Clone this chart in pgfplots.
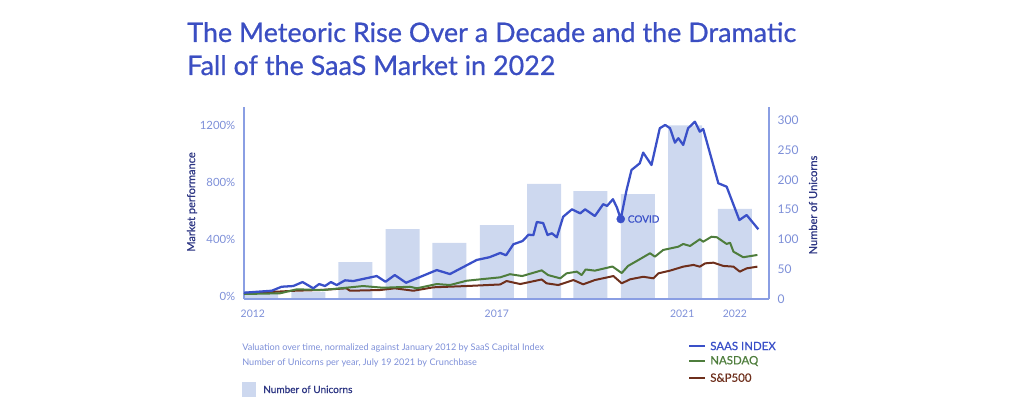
\documentclass[border=0pt]{standalone}
\usepackage{fontspec}
\setmainfont{Lato}
\newfontfamily\medfont{Lato}[FakeBold=0.7]
\usepackage{pgfplots}
\pgfplotsset{compat=1.18}
\definecolor{titleblue}{HTML}{3B4EC2}
\definecolor{saas}{HTML}{3A50C8}
\definecolor{ticklab}{HTML}{7D8FD8}
\definecolor{spine}{HTML}{8A9EE3}
\definecolor{barc}{HTML}{CDD8EF}
\definecolor{nasdaq}{HTML}{4E7D3C}
\definecolor{sp}{HTML}{6E2F1C}
\definecolor{navy}{HTML}{2E3784}
\begin{document}
\begin{tikzpicture}
\path[use as bounding box] (-183pt,-86.25pt) rectangle (585pt,224.25pt);
% ---- bars: number of unicorns (right axis)
\begin{axis}[
  scale only axis, width=393.75pt, height=144pt,
  xmin=2012, xmax=2022.758, ymin=0, ymax=322,
  axis y line*=right, axis x line=none,
  y axis line style={draw=spine, line width=1pt, -},
  ytick={0,50,100,150,200,250,300},
  major tick length=0pt,
  yticklabel style={font=\fontsize{9}{9}\selectfont, text=ticklab, /pgf/number format/assume math mode=true, xshift=3pt},
  ybar, bar width=25.5pt,
]
\addplot[fill=barc, draw=none] coordinates {
 (2012.35,13) (2013.32,12) (2014.28,62) (2015.25,117) (2016.21,94)
 (2017.18,124) (2018.15,193) (2019.10,181) (2020.07,176) (2021.04,291) (2022.06,151)};
\end{axis}
% ---- lines: market performance (left axis)
\begin{axis}[
  scale only axis, width=393.75pt, height=144pt,
  xmin=2012, xmax=2022.758, ymin=-21, ymax=1326,
  axis y line*=left, axis x line*=bottom,
  axis line style={draw=spine, line width=1pt, -},
  ytick={0,400,800,1200},
  yticklabel={\pgfmathprintnumber{\tick}\%},
  /pgf/number format/1000 sep={},
  xtick={2012.18,2017.18,2020.98,2022.06},
  xticklabels={2012,2017,2021,2022},
  major tick length=0pt,
  yticklabel style={font=\fontsize{8.5}{8.5}\selectfont, text=ticklab, /pgf/number format/assume math mode=true, /pgf/number format/1000 sep={}, xshift=-3pt},
  xticklabel style={font=\fontsize{7.8}{7.8}\selectfont, text=ticklab, /pgf/number format/assume math mode=true, yshift=-5pt},
]
\addplot[draw=sp, line width=1.5pt, line join=round] coordinates {
 (2012.0,14) (2012.53,28) (2013.05,37) (2013.56,42) (2014.10,54) (2014.17,37)
 (2014.79,42) (2015.09,54) (2015.47,37) (2015.88,61) (2016.56,70) (2017.25,81)
 (2017.38,105) (2017.66,84) (2018.10,116) (2018.20,89) (2018.44,77) (2018.75,112)
 (2018.95,82) (2019.19,112) (2019.57,140) (2019.74,89) (2019.91,117) (2020.18,135)
 (2020.39,124) (2020.49,159) (2020.73,178) (2021.00,206) (2021.21,218) (2021.34,206)
 (2021.45,229) (2021.62,234) (2021.82,211) (2022.03,206) (2022.16,171) (2022.30,194)
 (2022.52,206)};
\addplot[draw=nasdaq, line width=1.5pt, line join=round] coordinates {
 (2012.0,14) (2012.74,19) (2013.08,47) (2013.62,42) (2014.44,70) (2014.85,58)
 (2015.40,65) (2015.54,54) (2015.95,84) (2016.22,77) (2016.56,107) (2016.84,117)
 (2017.25,131) (2017.45,153) (2017.70,140) (2018.10,180) (2018.23,147) (2018.48,124)
 (2018.61,159) (2018.82,171) (2018.92,147) (2019.00,186) (2019.19,178) (2019.55,207)
 (2019.74,161) (2019.87,211) (2020.11,258) (2020.32,300) (2020.42,276) (2020.59,323)
 (2020.90,346) (2021.00,365) (2021.14,351) (2021.34,398) (2021.41,381) (2021.58,416)
 (2021.69,412) (2021.89,365) (2021.96,374) (2022.03,311) (2022.23,272) (2022.52,288)};
\addplot[draw=saas, line width=1.7pt, line join=round] coordinates {
 (2012.0,23) (2012.57,37) (2012.77,65) (2013.01,70) (2013.20,98) (2013.42,54)
 (2013.54,84) (2013.66,70) (2013.78,98) (2013.90,77) (2014.07,110) (2014.24,105)
 (2014.72,140) (2014.90,100) (2015.09,147) (2015.32,93) (2015.95,182) (2016.22,154)
 (2016.77,253) (2017.03,272) (2017.25,302) (2017.37,286) (2017.52,363) (2017.71,386)
 (2017.83,430) (2017.93,427) (2018.00,519) (2018.13,512) (2018.22,428) (2018.31,440)
 (2018.41,412) (2018.54,556) (2018.72,608) (2018.89,580) (2018.99,608) (2019.19,561)
 (2019.36,644) (2019.44,632) (2019.56,679) (2019.64,622) (2019.72,540) (2019.84,744)
 (2019.94,884) (2020.11,931) (2020.18,1006) (2020.35,919) (2020.52,1177) (2020.63,1200)
 (2020.73,1177) (2020.83,1076) (2020.90,1107) (2021.00,1060) (2021.10,1177) (2021.24,1223)
 (2021.34,1153) (2021.41,1172) (2021.72,791) (2021.89,767) (2022.15,533) (2022.30,568)
 (2022.54,468)};
\addplot[only marks, mark=*, mark size=3pt, color=saas] coordinates {(2019.72,540)};
\node[anchor=west, text=saas, font=\medfont\fontsize{7.5}{7.5}\selectfont, inner sep=0pt] at (axis cs:2019.86,540) {COVID};
\end{axis}
% ---- titles and labels
\node[anchor=base west, inner sep=0pt, text=titleblue, font=\medfont\fontsize{20.2}{24}\selectfont] at (-42.75pt,192.75pt) {The Meteoric Rise Over a Decade and the Dramatic};
\node[anchor=base west, inner sep=0pt, text=titleblue, font=\medfont\fontsize{20.2}{24}\selectfont] at (-42.75pt,168pt) {Fall of the SaaS Market in 2022};
\node[rotate=90, text=navy, font=\medfont\fontsize{8.3}{8.3}\selectfont, inner sep=0pt] at (-39pt,72.75pt) {Market performance};
\node[rotate=90, text=navy, font=\medfont\fontsize{8.3}{8.3}\selectfont, inner sep=0pt] at (426.75pt,70.5pt) {Number of Unicorns};
% ---- notes
\node[anchor=base west, inner sep=0pt, text=ticklab, font=\fontsize{6.85}{6.85}\selectfont] at (-1.5pt,-38.25pt) {Valuation over time, normalized against January 2012 by SaaS Capital Index};
\node[anchor=base west, inner sep=0pt, text=ticklab, font=\fontsize{6.85}{6.85}\selectfont] at (-1.5pt,-49.5pt) {Number of Unicorns per year, July 19 2021 by Crunchbase};
\fill[barc] (-1.5pt,-73.5pt) rectangle (9pt,-62.25pt);
\node[anchor=base west, inner sep=0pt, text=navy, font=\medfont\fontsize{7.5}{7.5}\selectfont] at (14.25pt,-70.5pt) {Number of Unicorns};
% ---- legend
\draw[saas, line width=1.4pt] (333.75pt,-35.25pt) -- (345.75pt,-35.25pt);
\draw[nasdaq, line width=1.4pt] (333.75pt,-46.5pt) -- (345.75pt,-46.5pt);
\draw[sp, line width=1.4pt] (333.75pt,-59pt) -- (345.75pt,-59pt);
\node[anchor=west, inner sep=0pt, text=saas, font=\medfont\fontsize{8.6}{8.6}\selectfont] at (349.5pt,-35.25pt) {SAAS INDEX};
\node[anchor=west, inner sep=0pt, text=nasdaq, font=\medfont\fontsize{8.6}{8.6}\selectfont] at (349.5pt,-46.5pt) {NASDAQ};
\node[anchor=west, inner sep=0pt, text=sp, font=\medfont\fontsize{8.6}{8.6}\selectfont] at (349.5pt,-59pt) {S\&P500};
\end{tikzpicture}
\end{document}
